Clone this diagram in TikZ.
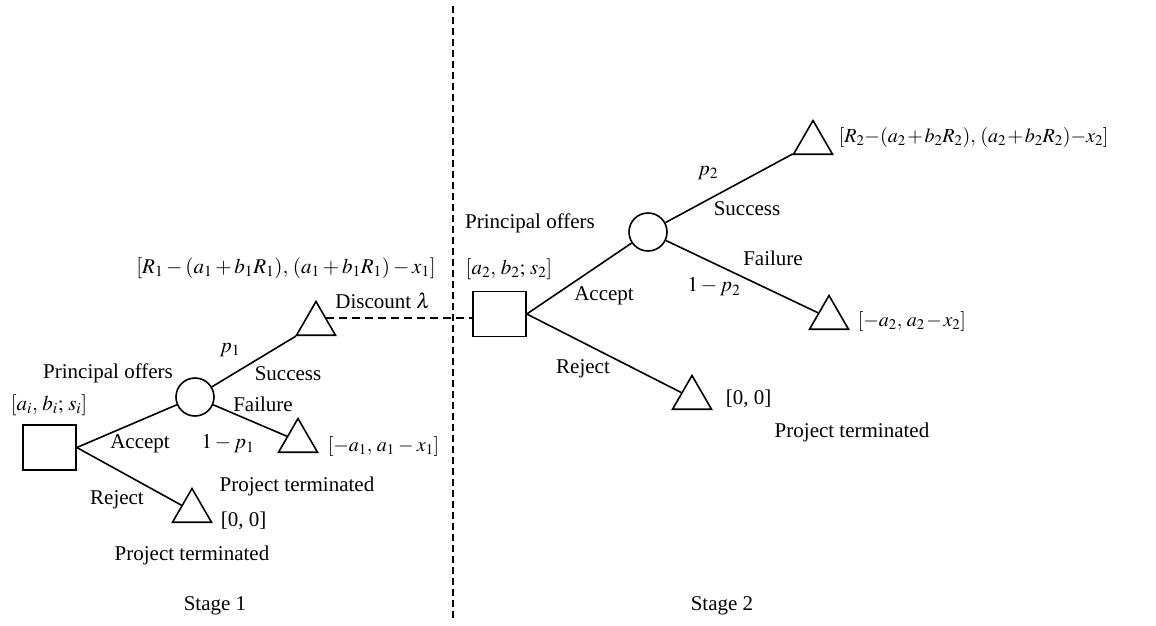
\documentclass[tikz,border=0pt]{standalone}
\usepackage{mathptmx}
\usepackage{fontspec}
\setmainfont{Liberation Serif}
\usetikzlibrary{shapes.geometric}
\begin{document}
\begin{tikzpicture}[x=1pt,y=-1pt,
  font=\fontsize{21}{25}\selectfont,
  line width=1.6pt,
  box/.style={draw, rectangle, minimum width=53pt, minimum height=45pt, inner sep=0},
  chance/.style={draw, circle, minimum size=38pt, inner sep=0},
  leaf/.style={draw, regular polygon, regular polygon sides=3, minimum size=45pt, inner sep=0},
  lbl/.style={inner sep=0, anchor=center},
  mlbl/.style={inner sep=0, anchor=west, font=\fontsize{20}{24}\selectfont},
  branch/.style={line width=1.6pt},
  link/.style={dash pattern=on 8pt off 5pt, line width=1.4pt},
  divider/.style={dash pattern=on 7pt off 4pt, line width=1.4pt}]
\useasboundingbox (0,0) rectangle (1156,625);

% divider
\coordinate (dtop) at (453,6);
\coordinate (dbot) at (453,620);
\draw[divider] (dtop) -- (dbot);

% Stage 1 nodes
\node[box] (S1) at (49.5,447.5) {};
\node[chance] (C1) at (195,397) {};
\node[leaf] (T1s) at (316,324) {};
\node[leaf] (T1f) at (298,441) {};
\node[leaf] (T1r) at (192,511) {};

% Stage 2 nodes
\node[box] (S2) at (499.5,314) {};
\node[chance] (C2) at (648,232) {};
\node[leaf] (T2s) at (813,143) {};
\node[leaf] (T2f) at (829,318) {};
\node[leaf] (T2r) at (692,398) {};

% branches
\draw[branch] (S1.east) -- (C1);
\draw[branch] (S1.east) -- (T1r);
\draw[branch] (C1) -- (T1s);
\draw[branch] (C1) -- (T1f);
\draw[branch] (S2.east) -- (C2);
\draw[branch] (S2.east) -- (T2r);
\draw[branch] (C2) -- (T2s);
\draw[branch] (C2) -- (T2f);
\draw[link] (T1s.side 3) -- (T1s.side 3 -| S2.west);

% Stage 1 labels
\node[lbl] (l1) at (286,268) {$[R_1-(a_1+b_1R_1),\,(a_1+b_1R_1)-x_1]$};
\node[lbl] (l2) at (383,301) {Discount $\lambda$};
\node[lbl] (l3) at (230,350) {$p_1$};
\node[lbl] (l4) at (108,373) {Principal offers};
\node[lbl] (l5) at (288,374) {Success};
\node[lbl] (l6) at (49,405) {$[a_i,\,b_i;\,s_i]$};
\node[lbl] (l7) at (263,404) {Failure};
\node[lbl] (l8) at (140,444) {Accept};
\node[lbl] (l9) at (228,444) {$1-p_1$};
\node[mlbl] (l10) at (327,446) {\medmuskip=3mu $[{-}a_1,\,a_1-x_1]$};
\node[lbl] (l11) at (297,486) {Project terminated};
\node[lbl] (l12) at (117,500) {Reject};
\node[lbl, anchor=west] (l13) at (220,521) {[0, 0]};
\node[lbl] (l14) at (192,555) {Project terminated};
\node[lbl] (l15) at (215,606) {Stage 1};

% Stage 2 labels
\node[mlbl] (m1) at (838,137) {\medmuskip=1.5mu $[R_2{-}(a_2+b_2R_2),\,(a_2+b_2R_2){-}x_2]$};
\node[lbl] (m2) at (708,173) {$p_2$};
\node[lbl] (m3) at (747,209) {Success};
\node[lbl] (m4) at (530,223) {Principal offers};
\node[lbl] (m5) at (773,258) {Failure};
\node[lbl] (m6) at (509,269) {$[a_2,\,b_2;\,s_2]$};
\node[lbl] (m7) at (604,296) {Accept};
\node[lbl] (m8) at (714,287) {$1-p_2$};
\node[mlbl] (m9) at (857,321) {\medmuskip=1.5mu $[{-}a_2,\,a_2-x_2]$};
\node[lbl] (m10) at (583,369) {Reject};
\node[lbl, anchor=west] (m11) at (725,399) {[0, 0]};
\node[lbl] (m12) at (852,432) {Project terminated};
\node[lbl] (m13) at (722,606) {Stage 2};
\end{tikzpicture}
\end{document}
